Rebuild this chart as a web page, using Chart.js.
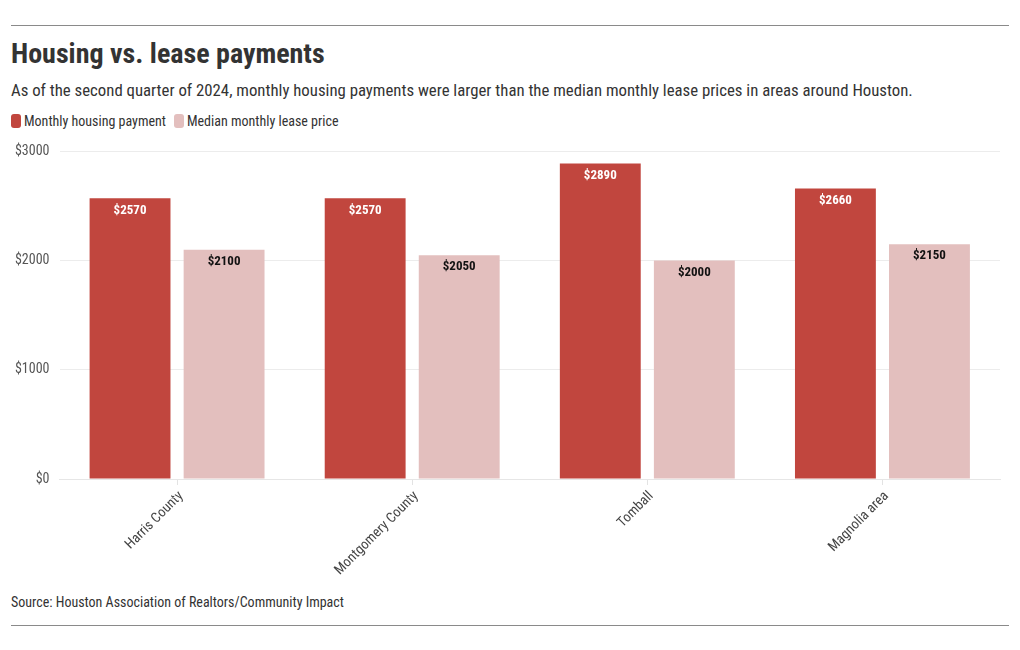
<!DOCTYPE html>
<html>
<head>
<meta charset="utf-8">
<script src="https://cdn.jsdelivr.net/npm/chart.js@4"></script>
<style>
  html, body { margin:0; padding:0; background:#fff; }
  body { width:1020px; height:650px; position:relative; overflow:hidden;
         font-family: "Roboto Condensed", "Liberation Sans Narrow", "DejaVu Sans Condensed", Roboto, sans-serif; color:#333; }
  .rule { position:absolute; left:11px; width:998px; height:0; border-top:1px solid #8a8a8a; }
  #title { position:absolute; left:11px; top:37px; font-size:28px; font-weight:bold; color:#333; white-space:nowrap; }
  #sub { position:absolute; left:11px; top:80px; font-size:16.8px; color:#333; white-space:nowrap; }
  #legend { position:absolute; left:11px; top:113px; font-size:14px; color:#333; display:flex; gap:8px; white-space:nowrap; }
  #legend span.sw { display:inline-block; width:10px; height:14px; border-radius:3px; vertical-align:-2px; margin-right:3px; }
  #source { position:absolute; left:11px; top:594px; font-size:14px; color:#333; white-space:nowrap; }
  #wrap { position:absolute; left:0; top:133px; width:1020px; height:457px; }
</style>
</head>
<body>
<div class="rule" style="top:25px"></div>
<div id="title">Housing vs. lease payments</div>
<div id="sub">As of the second quarter of 2024, monthly housing payments were larger than the median monthly lease prices in areas around Houston.</div>
<div id="legend"></div>
<div id="wrap"><canvas id="c"></canvas></div>
<div id="source">Source: Houston Association of Realtors/Community Impact</div>
<div class="rule" style="top:625px"></div>
<script>
const categories = ["Harris County", "Montgomery County", "Tomball", "Magnolia area"];
const housingPayment = [2570, 2570, 2890, 2660];
const leasePrice = [2100, 2050, 2000, 2150];
const seriesNames = ["Monthly housing payment", "Median monthly lease price"];
const yTicks = [0, 1000, 2000, 3000];

const FONT = '"Roboto Condensed", "Liberation Sans Narrow", "DejaVu Sans Condensed", Roboto, sans-serif';
const colors = ["#c1463e", "#e3bfbe"];
const labelColors = ["#ffffff", "#111111"];

const leg = document.getElementById('legend');
seriesNames.forEach((n, i) => {
  const d = document.createElement('div');
  d.innerHTML = '<span class="sw" style="background:' + colors[i] + '"></span>' + n;
  leg.appendChild(d);
});

const valueLabels = {
  id: 'valueLabels',
  afterDatasetsDraw(chart) {
    const ctx = chart.ctx;
    ctx.save();
    ctx.font = 'bold 13px ' + FONT;
    ctx.textAlign = 'center';
    ctx.textBaseline = 'middle';
    chart.data.datasets.forEach((ds, di) => {
      const meta = chart.getDatasetMeta(di);
      meta.data.forEach((bar, i) => {
        ctx.fillStyle = labelColors[di];
        ctx.fillText('$' + ds.data[i], bar.x, bar.y + 12);
      });
    });
    ctx.restore();
  }
};

new Chart(document.getElementById('c'), {
  type: 'bar',
  data: {
    labels: categories,
    datasets: [
      { label: seriesNames[0], data: housingPayment, backgroundColor: colors[0] },
      { label: seriesNames[1], data: leasePrice, backgroundColor: colors[1] }
    ]
  },
  options: {
    responsive: true,
    maintainAspectRatio: false,
    animation: false,
    layout: { padding: { top: 0, right: 20, left: 0, bottom: 0 } },
    datasets: { bar: { categoryPercentage: 0.8, barPercentage: 0.86 } },
    plugins: { legend: { display: false }, tooltip: { enabled: false } },
    scales: {
      x: {
        grid: { display: true, offset: false, drawOnChartArea: false, drawTicks: true, tickLength: 6, color: '#e3e3e3' },
        border: { display: true, color: '#e6e6e6' },
        ticks: { maxRotation: 45, minRotation: 45, color: '#444', font: { family: FONT, size: 14 }, padding: 3, labelOffset: 4 },
        afterFit(s) { s.height = 111; }
      },
      y: {
        min: 0, max: 3000,
        afterBuildTicks(s) { s.ticks = yTicks.map(v => ({ value: v })); },
        grid: { color: '#ececec', drawTicks: false },
        border: { display: false },
        ticks: { color: '#555', font: { family: FONT, size: 14 }, padding: 10, callback: v => '$' + v },
        afterFit(s) { s.width = 59.5; }
      }
    }
  },
  plugins: [valueLabels]
});
</script>
</body>
</html>
